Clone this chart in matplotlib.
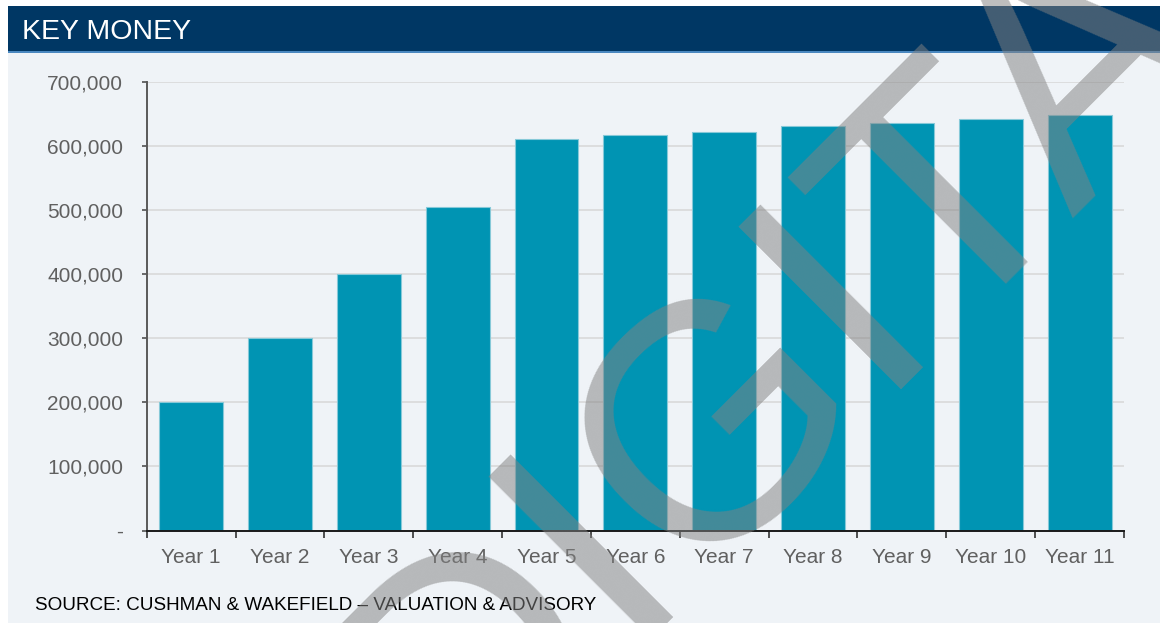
import matplotlib
matplotlib.use("Agg")
import matplotlib.pyplot as plt
from matplotlib.patches import Rectangle
from matplotlib.ticker import FuncFormatter, FixedLocator

# Data
years = ["Year 1", "Year 2", "Year 3", "Year 4", "Year 5", "Year 6",
         "Year 7", "Year 8", "Year 9", "Year 10", "Year 11"]
key_money = [200000, 300000, 400000, 505000, 611000, 617000,
             623000, 631000, 637000, 643000, 649000]
y_ticks = [0, 100000, 200000, 300000, 400000, 500000, 600000, 700000]

title = "KEY MONEY"
source = "SOURCE: CUSHMAN & WAKEFIELD \u2013 VALUATION & ADVISORY"
watermark = "DIGITAL"

W, H = 1160, 623
plt.rcParams["font.family"] = ["Liberation Sans", "DejaVu Sans"]

fig = plt.figure(figsize=(W / 100, H / 100), dpi=100, facecolor="white")

# Light panel behind the chart
fig.patches.append(Rectangle((8 / W, 0), 1 - 8 / W, 1 - 52.7 / H,
                             transform=fig.transFigure, facecolor="#eff3f7",
                             edgecolor="none", zorder=-5))
# Header band with thin accent line underneath
fig.patches.append(Rectangle((8 / W, 1 - 50.7 / H), 1 - 8 / W, 44.7 / H,
                             transform=fig.transFigure, facecolor="#003764",
                             edgecolor="none", zorder=-5))
fig.patches.append(Rectangle((8 / W, 1 - 52.7 / H), 1 - 8 / W, 2 / H,
                             transform=fig.transFigure, facecolor="#4a88c0",
                             edgecolor="none", zorder=-5))
fig.text(22.5 / W, 1 - 39.3 / H, title, color="white", fontsize=20.5,
         ha="left", va="baseline")

ax_left, ax_right = 146.7 / W, 1124 / W
ax_bottom, ax_top = 1 - 530.5 / H, 1 - 82.3 / H
ax = fig.add_axes([ax_left, ax_bottom, ax_right - ax_left, ax_top - ax_bottom])
ax.set_facecolor("none")

x = list(range(len(years)))
ax.bar(x, key_money, width=0.72, color="#0094b3", edgecolor="#86c9d8",
       linewidth=0.8, zorder=3)

ax.set_xlim(-0.5, len(years) - 0.5)
ax.set_ylim(0, 700000)

# Category labels between tick marks at the slot boundaries
ax.xaxis.set_major_locator(FixedLocator([i - 0.5 for i in range(len(years) + 1)]))
ax.xaxis.set_minor_locator(FixedLocator(x))
ax.set_xticklabels([], minor=False)
ax.set_xticklabels(years, minor=True)
ax.tick_params(axis="x", which="major", direction="out", length=5, width=1.1,
               color="#222222")
ax.tick_params(axis="x", which="minor", length=0, pad=12.5, labelsize=15,
               labelcolor="#606060")

ax.yaxis.set_major_locator(FixedLocator(y_ticks))
ax.yaxis.set_major_formatter(FuncFormatter(lambda v, p: "-" if v == 0 else f"{v:,.0f}"))
ax.tick_params(axis="y", direction="out", length=3.5, width=1.1, color="#444444",
               pad=13.5, labelsize=15, labelcolor="#606060")

ax.grid(axis="y", color="#d9d9d9", linewidth=1.2, zorder=0)
ax.set_axisbelow(True)
for s in ("top", "right"):
    ax.spines[s].set_visible(False)
ax.spines["left"].set_color("#595959")
ax.spines["left"].set_linewidth(1.4)
ax.spines["bottom"].set_color("#1a1a1a")
ax.spines["bottom"].set_linewidth(1.4)
ax.spines["bottom"].set_zorder(4)

fig.text(35 / W, 1 - 605 / H, source, color="black", fontsize=13.6,
         ha="left", va="center")

# Diagonal watermark over everything
fig.text(903 / W, 1 - 360 / H, watermark, fontsize=241, rotation=45,
         rotation_mode="anchor", ha="center", va="baseline",
         color=(130 / 255, 130 / 255, 130 / 255), alpha=0.52, zorder=10)

fig.savefig("out.png", dpi=100, facecolor="white")
